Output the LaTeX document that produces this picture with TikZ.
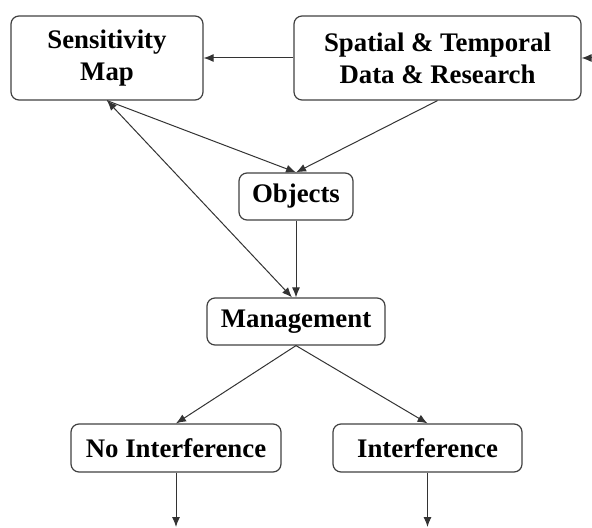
\documentclass[tikz,border=0pt]{standalone}
\usepackage{fontspec}
\setmainfont{Liberation Serif}
\usetikzlibrary{arrows.meta}

\begin{document}
\begin{tikzpicture}[x=0.5pt, y=-0.5pt,
    box/.style={draw=black!75, line width=0.6pt, rounded corners=4pt, inner sep=0pt,
      align=center, font=\fontsize{13.4}{16}\selectfont\bfseries},
    arr/.style={draw=black!80, line width=0.5pt, -{Latex[length=5pt, width=4pt]}},
]

\useasboundingbox (0,0) rectangle (592,528);

% boxes
\node[box, minimum width=96pt, minimum height=42pt] (sens) at (107,58) {Sensitivity\\Map};
\node[box, minimum width=143.5pt, minimum height=42pt] (data) at (437.5,58) {Spatial \& Temporal\\Data \& Research};
\node[box, minimum width=57pt, minimum height=23.5pt] (obj) at (296,196.5) {Objects};
\node[box, minimum width=89pt, minimum height=23.5pt] (mgmt) at (296,321.5) {Management};
\node[box, minimum width=105pt, minimum height=24pt] (noint) at (176,448) {No Interference};
\node[box, minimum width=94.5pt, minimum height=24pt] (int) at (427.5,448) {Interference};

% loose ends
\coordinate (in) at (594,58);
\coordinate (outA) at (176,527);
\coordinate (outB) at (427.5,527);

% arrows
\draw[arr] (in) -- (data.east);
\draw[arr] (data.west) -- (sens.east);
\draw[arr] (sens.south) -- (obj.north);
\draw[arr] (data.south) -- (obj.north);
\draw[arr] (obj.south) -- (mgmt.north);
\draw[arr, {Latex[length=5pt, width=4pt]}-{Latex[length=5pt, width=4pt]}] (sens.south) -- ([xshift=-2pt]mgmt.north);
\draw[arr] (mgmt.south) -- (noint.north);
\draw[arr] (mgmt.south) -- (int.north);
\draw[arr] (noint.south) -- (outA);
\draw[arr] (int.south) -- (outB);
\end{tikzpicture}
\end{document}
